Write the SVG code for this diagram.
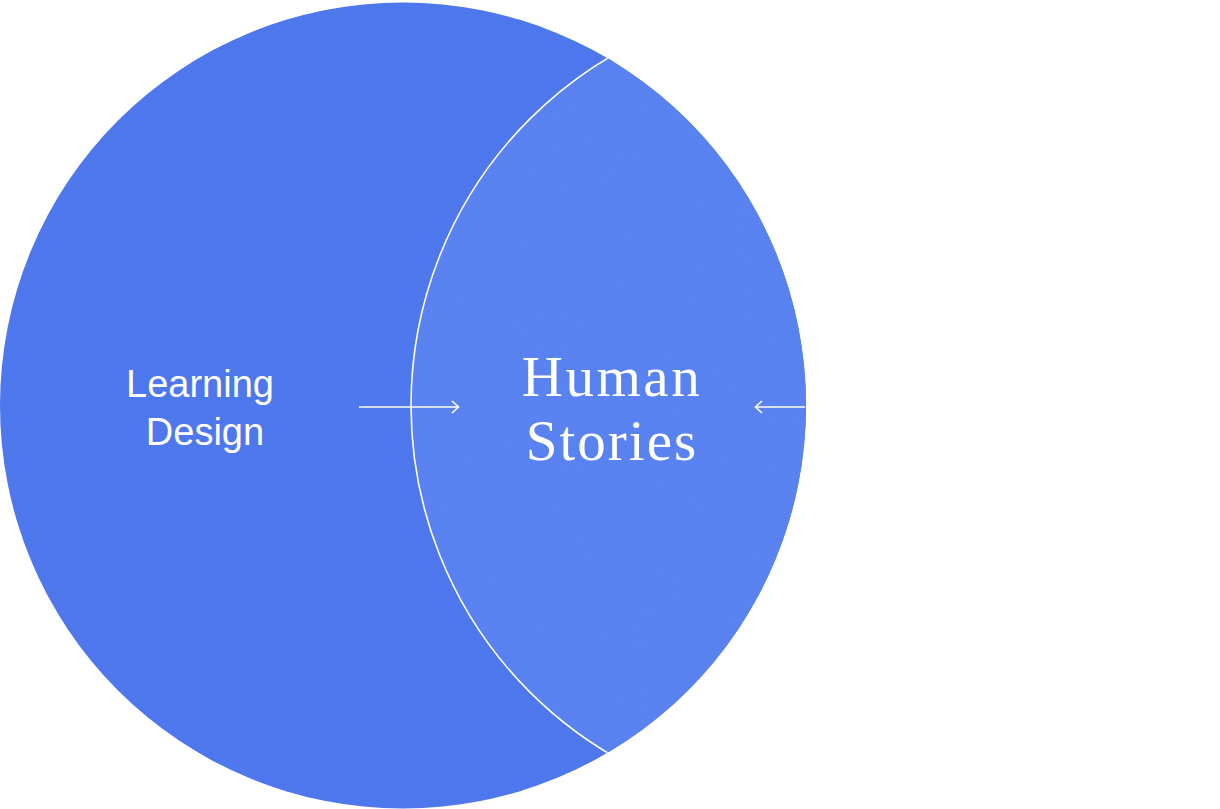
<svg xmlns="http://www.w3.org/2000/svg" width="1220" height="809" viewBox="0 0 1220 809">
  <style>
    .sans { font-family: "Liberation Sans", "Open Sans", sans-serif; fill: #ffffff; }
    .serif { font-family: "Liberation Serif", "DejaVu Serif", serif; fill: #ffffff; }
    .line { stroke: #ffffff; stroke-width: 1.6; fill: none; }
  </style>
  <defs>
    <clipPath id="bigClip">
      <circle cx="403" cy="405.5" r="403"/>
    </clipPath>
    <marker id="chev" viewBox="0 0 10 14" refX="9" refY="7" markerWidth="10" markerHeight="14" markerUnits="userSpaceOnUse" orient="auto">
      <path d="M2,1 L8.5,7 L2,13" fill="none" stroke="#ffffff" stroke-width="1.6"/>
    </marker>
    <filter id="noise" x="0" y="0" width="100%" height="100%">
      <feTurbulence type="fractalNoise" baseFrequency="0.9" numOctaves="2" seed="3" result="n"/>
      <feColorMatrix in="n" type="matrix" values="0 0 0 0 1  0 0 0 0 1  0 0 0 0 1  0 0 0 0.035 0" result="w"/>
      <feComposite in="w" in2="SourceGraphic" operator="in" result="wc"/>
      <feMerge><feMergeNode in="SourceGraphic"/><feMergeNode in="wc"/></feMerge>
    </filter>
  </defs>
  <rect width="1220" height="809" fill="#ffffff"/>
  <g id="learning-design">
    <circle cx="403" cy="405.5" r="403" fill="#4673ed" filter="url(#noise)"/>
    <text class="sans" x="200" y="397" font-size="38" text-anchor="middle">Learning</text>
    <text class="sans" x="205" y="445" font-size="38" text-anchor="middle">Design</text>
  </g>
  <g id="human-stories">
    <g clip-path="url(#bigClip)">
      <circle cx="816" cy="405.5" r="405" fill="#537ff0" filter="url(#noise)"/>
      <circle cx="816" cy="405.5" r="405" class="line" stroke-width="2"/>
    </g>
    <text class="serif" x="612" y="396" font-size="57" letter-spacing="2.5" text-anchor="middle">Human</text>
    <text class="serif" x="612" y="460" font-size="57" letter-spacing="2" text-anchor="middle">Stories</text>
  </g>
  <g id="connectors">
    <line class="line" x1="359" y1="407" x2="459" y2="407" marker-end="url(#chev)"/>
    <line class="line" x1="805" y1="407" x2="755" y2="407" marker-end="url(#chev)"/>
  </g>
</svg>
